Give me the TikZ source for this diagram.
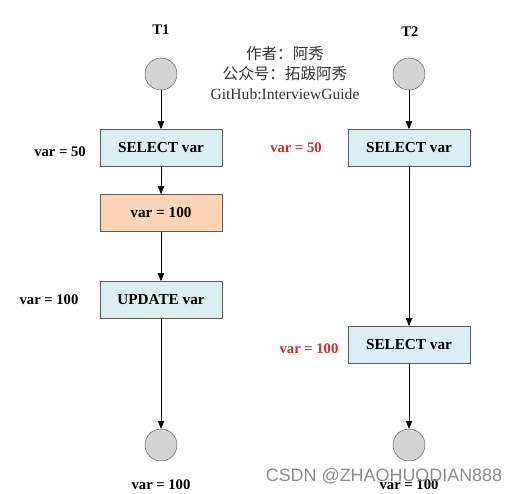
\documentclass[tikz,border=0pt]{standalone}
\usepackage{fontspec}
\setmainfont{Liberation Serif}
\newfontfamily\cjk{Noto Sans CJK SC}
\newfontfamily\wmfont{Liberation Sans}
\usetikzlibrary{arrows.meta}
\definecolor{boxblue}{RGB}{219,238,244}
\definecolor{boxorange}{RGB}{251,213,181}
\definecolor{dotgray}{RGB}{212,212,212}
\definecolor{edgegray}{RGB}{90,90,90}
\definecolor{hotred}{RGB}{214,40,40}
\begin{document}
\begin{tikzpicture}[x=0.03cm,y=-0.03cm,>={Triangle[length=2.4mm,width=2mm]},
  op/.style={draw=edgegray,thick,fill=boxblue,minimum width=3.66cm,minimum height=1.11cm,inner sep=0pt,font=\fontsize{13}{15}\selectfont\bfseries},
  val/.style={op,fill=boxorange},
  dot/.style={draw=edgegray,fill=dotgray,circle,minimum size=0.96cm,inner sep=0pt},
  lab/.style={inner sep=1pt,font=\fontsize{12.5}{14}\selectfont\bfseries},
  hot/.style={lab,text=hotred}]
  \useasboundingbox[fill=white] (0,0) rectangle (518,494);
  \node[lab] (t1) at (161,30) {T1};
  \node[lab] (t2) at (410,32) {T2};
  \node[dot] (s1) at (161,74) {};
  \node[op] (sel1) at (161,148) {SELECT var};
  \node[val] (set1) at (161,213) {var = 100};
  \node[op] (upd1) at (161,300) {UPDATE var};
  \node[dot] (e1) at (161,445) {};
  \node[dot] (s2) at (409,74) {};
  \node[op] (sel2) at (409,148) {SELECT var};
  \node[op] (sel3) at (409,345) {SELECT var};
  \node[dot] (e2) at (409,445) {};
  \draw[->] (s1)--(sel1);
  \draw[->] (sel1)--(set1);
  \draw[->] (set1)--(upd1);
  \draw[->] (upd1)--(e1);
  \draw[->] (s2)--(sel2);
  \draw[->] (sel2)--(sel3);
  \draw[->] (sel3)--(e2);
  \node[lab] (v1) at (60,152) {var = 50};
  \node[lab] (v2) at (49,300) {var = 100};
  \node[lab] (v3) at (161,485) {var = 100};
  \node[hot] (v4) at (296,148) {var = 50};
  \node[hot] (v5) at (309,349) {var = 100};
  \node[lab] (v6) at (409,485) {var = 100};
  \node[align=center,font=\fontsize{13.3}{17.4}\selectfont,text=black!80] (note) at (285,73)
    {{\cjk 作者：阿秀}\\{\cjk 公众号：拓跋阿秀}\\GitHub:InterviewGuide};
  \node[font=\wmfont\fontsize{15.3}{17}\selectfont,text=black!45] (mark) at (384,476) {CSDN @ZHAOHUODIAN888};
\end{tikzpicture}
\end{document}
